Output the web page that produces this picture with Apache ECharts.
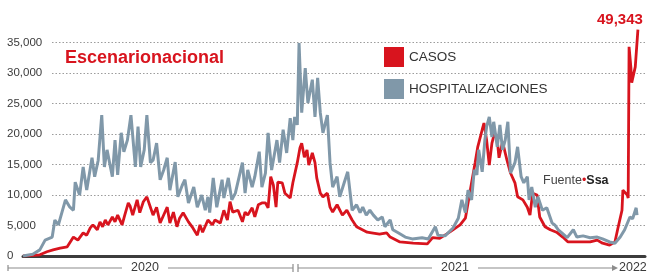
<!DOCTYPE html>
<html><head><meta charset="utf-8">
<script src="https://cdn.jsdelivr.net/npm/echarts@6/dist/echarts.min.js"></script>
<style>html,body{margin:0;padding:0;background:#fff}#c{width:650px;height:275px}</style>
</head><body><div id="c"></div>
<script>
// Días desde 2020-02-28
const casosDias = [0,19,27,34,42,50,57,62,68,72,76,79,84,87,90,93,96,101,104,107,112,115,119,121,124,129,132,136,140,144,147,151,155,158,163,166,170,174,177,181,187,192,197,200,203,209,214,217,223,227,231,234,237,243,248,251,254,259,262,266,270,274,277,280,283,286,288,293,296,302,305,310,313,315,318,321,323,327,330,332,336,339,344,347,350,355,361,366,372,377,389,394,403,411,415,426,441,457,463,471,483,494,500,503,507,511,514,519,521,524,527,530,533,536,538,542,547,551,556,559,565,570,573,576,581,584,590,596,603,610,616,626,641,649,655,663,669,672,677,678,683,684,685,687,688,692,695];
const casosValores = [0,200,700,1000,1300,1500,3100,2600,3800,3400,4600,5100,4300,5600,4800,5900,5100,6400,5600,6700,5100,6700,8700,8200,6700,9200,7100,8900,9700,8000,6700,8000,5400,6400,8000,5400,7200,4800,6200,7100,5600,4600,3400,5100,3900,5900,5100,5900,5400,7500,5900,8900,7200,7500,5600,7200,6700,7900,6400,8400,8700,8700,7900,13000,11600,8000,12100,12000,10300,9500,12000,15300,17700,18500,16200,17400,14900,16900,15300,12800,10300,9700,10300,8000,7200,8400,6700,7500,5900,4800,3900,3800,3600,3800,3100,2300,2100,2000,3000,2900,4000,5100,6200,8700,12000,15300,17900,20700,21800,19000,14900,18500,20200,19000,16100,18700,15700,13600,12000,9700,9200,8000,6700,10300,10000,6400,4800,4300,3900,3100,2300,2300,2300,2600,2100,1800,2300,4300,7500,10800,10000,9500,34300,31000,28400,31000,37100];
const hospDias = [0,11,19,25,33,36,40,48,53,57,59,64,68,72,78,81,85,89,92,95,101,104,107,111,114,118,122,127,130,133,137,140,144,147,151,155,159,163,166,172,175,180,183,187,193,197,202,206,209,211,215,219,225,227,232,236,240,248,251,254,259,262,267,270,274,277,281,287,290,294,298,302,305,307,310,312,315,319,322,327,330,333,336,339,344,347,350,355,358,363,367,372,377,381,384,388,392,396,401,406,409,415,418,424,432,440,451,458,466,469,477,486,492,496,500,503,507,510,513,515,519,522,524,527,530,532,536,539,542,545,548,551,556,559,563,566,570,572,575,579,582,587,592,598,601,605,609,615,622,626,633,641,649,655,663,669,675,680,686,689,693,694];
const hospValores = [0,300,1000,2600,3100,5900,5100,9200,8000,7500,12100,10000,14600,10800,16100,13000,15700,23100,14600,17400,13000,19000,13300,20200,17100,19000,23100,14600,21200,14600,17400,23100,15300,15700,18500,12500,14100,16100,10800,15400,9700,11600,12500,8700,11300,8000,10000,7500,9700,7100,12800,8000,12500,9500,12800,9200,10300,15300,10300,14100,11300,13000,17100,11300,13600,20200,14100,19000,15300,20700,16900,22600,19000,22800,21500,34900,23500,30800,25100,28900,22800,29200,23500,20200,23100,15300,11300,13000,9700,12000,13800,7500,8400,7100,8000,6700,7500,6700,5900,6400,4800,5900,4300,3800,3100,2800,3000,2800,4800,3400,3300,4600,6200,9200,7100,10800,9200,14100,13300,17400,13800,19000,21200,22800,19500,22000,17900,21500,17400,19000,22000,13600,15300,17900,13000,12000,13000,9200,11300,8000,9700,7500,7900,5400,5100,4300,3800,3000,4300,3100,3300,3000,3100,2800,2300,2100,3100,4300,6400,6100,7900,6700];
const seriesNombres = ['CASOS','HOSPITALIZACIONES'];
const yearLabels = ['2020','2021','2022'];
const maxEtiqueta = '49,343';
const titulo = 'Escenarionacional';

const zip = (d, v) => d.map((x, i) => [x, v[i]]);
const RED = '#d8141e', GRAY = '#8098a9', TXT = '#3a3a3a', BAND = '#8c8c8c';
const FONT = 'Liberation Sans, Arial, sans-serif';
const chart = echarts.init(document.getElementById('c'));
chart.setOption({
  animation: false,
  grid: [{left: 23, right: 5, top: 12, bottom: 19}, {left: 52, right: 5, top: 12, bottom: 19}],
  xAxis: [
    {type: 'value', min: 0, max: 703, gridIndex: 0,
     axisLine: {show: true, lineStyle: {color: '#3c3c3c', width: 3}},
     axisTick: {show: false}, axisLabel: {show: false}, splitLine: {show: false}},
    {type: 'value', min: 0, max: 703, gridIndex: 1, show: false}
  ],
  yAxis: [
    {type: 'value', min: 0, max: 40000, interval: 5000, gridIndex: 0,
     axisLine: {show: false}, axisTick: {show: false}, splitLine: {show: false},
     axisLabel: {align: 'left', margin: 16, color: TXT, fontSize: 11.5, fontFamily: FONT,
       formatter: v => v === 40000 ? '' : v.toLocaleString('en-US')}},
    {type: 'value', min: 0, max: 40000, interval: 5000, gridIndex: 1,
     axisLine: {show: false}, axisTick: {show: false}, axisLabel: {show: false},
     splitLine: {show: true, showMinLine: false, showMaxLine: false,
       lineStyle: {color: '#9c9c9c', type: [1.5, 2], width: 1.2}}}
  ],
  legend: {
    data: seriesNombres, icon: 'rect', orient: 'vertical', left: 384, top: 47,
    padding: 0, itemWidth: 20, itemHeight: 20, itemGap: 12,
    textStyle: {fontSize: 13.5, color: '#333', fontFamily: FONT}
  },
  series: [
    {name: seriesNombres[0], type: 'line', xAxisIndex: 0, yAxisIndex: 0, showSymbol: false,
     data: zip(casosDias, casosValores), color: RED, lineStyle: {width: 2.8, color: RED}, z: 3},
    {name: seriesNombres[1], type: 'line', xAxisIndex: 0, yAxisIndex: 0, showSymbol: false,
     data: zip(hospDias, hospValores), color: GRAY, lineStyle: {width: 3, color: GRAY}, z: 4}
  ],
  graphic: [
    {type: 'text', x: 65, y: 58, style: {text: titulo, fill: RED, font: 'bold 18px ' + FONT, verticalAlign: 'middle'}},
    {type: 'text', x: 597, y: 20, style: {text: maxEtiqueta, fill: RED, font: 'bold 15px ' + FONT, verticalAlign: 'middle'}},
    {type: 'text', x: 543, y: 181, style: {
      text: '{a|Fuente}{b|•}{c|Ssa}', verticalAlign: 'middle',
      rich: {a: {fill: '#444', fontSize: 12.5, fontFamily: FONT},
             b: {fill: RED, fontSize: 12.5, fontFamily: FONT},
             c: {fill: '#222', fontSize: 12.5, fontWeight: 'bold', fontFamily: FONT}}}},
    // banda de años
    {type: 'line', shape: {x1: 8, y1: 268, x2: 122, y2: 268}, style: {stroke: BAND, lineWidth: 1.2}},
    {type: 'line', shape: {x1: 8, y1: 265, x2: 8, y2: 271}, style: {stroke: BAND, lineWidth: 1.2}},
    {type: 'line', shape: {x1: 168, y1: 268, x2: 293, y2: 268}, style: {stroke: BAND, lineWidth: 1.2}},
    {type: 'line', shape: {x1: 293, y1: 264, x2: 293, y2: 272}, style: {stroke: BAND, lineWidth: 1.2}},
    {type: 'line', shape: {x1: 298, y1: 264, x2: 298, y2: 272}, style: {stroke: BAND, lineWidth: 1.2}},
    {type: 'line', shape: {x1: 298, y1: 268, x2: 432, y2: 268}, style: {stroke: BAND, lineWidth: 1.2}},
    {type: 'line', shape: {x1: 478, y1: 268, x2: 613, y2: 268}, style: {stroke: BAND, lineWidth: 1.2}},
    {type: 'polygon', shape: {points: [[612, 265], [618, 268], [612, 271]]}, style: {fill: BAND}},
    {type: 'text', x: 145, y: 268, style: {text: yearLabels[0], fill: TXT, font: '12.5px ' + FONT, align: 'center', verticalAlign: 'middle'}},
    {type: 'text', x: 455, y: 268, style: {text: yearLabels[1], fill: TXT, font: '12.5px ' + FONT, align: 'center', verticalAlign: 'middle'}},
    {type: 'text', x: 619, y: 268, style: {text: yearLabels[2], fill: TXT, font: '12.5px ' + FONT, align: 'left', verticalAlign: 'middle'}}
  ]
});
</script></body></html>
